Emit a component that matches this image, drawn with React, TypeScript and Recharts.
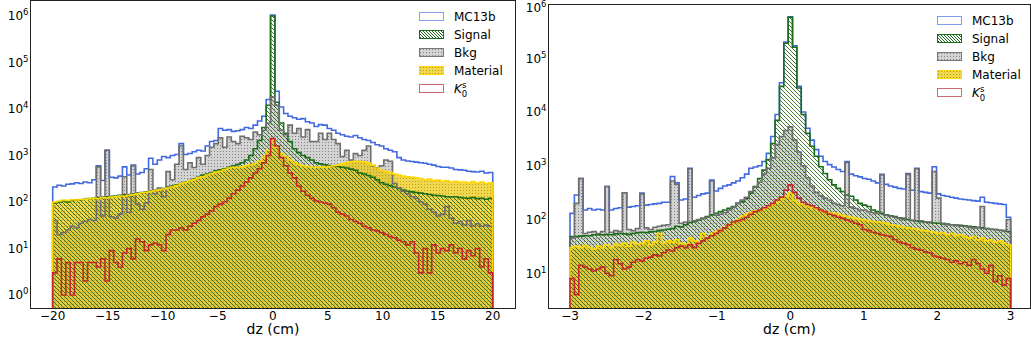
import React from 'react';
import { ComposedChart, Area, Line, XAxis, YAxis } from 'recharts';

// bin contents: 101 equal bins per panel
const leftRange = [-20, 20];
const leftMC13b = [
  210, 230, 220, 240, 245, 260, 250, 270, 260, 300,
  600, 290, 1300, 340, 330, 360, 570, 380, 620, 400,
  430, 520, 870, 650, 800, 950, 900, 1000, 1050, 1800,
  1050, 1100, 1200, 1300, 1250, 1600, 2000, 2100, 3800, 3500,
  3600, 3300, 3400, 3600, 4000, 3800, 4500, 5500, 7000, 16000,
  1050000,
  24000, 11000, 8000, 7000, 6500, 6000, 6200, 5300, 5000, 4200,
  4600, 4500, 3800, 3500, 3000, 2800, 2600, 2500, 2700, 2400,
  2200, 2100, 1900, 1700, 1600, 1400, 1300, 1200, 900, 800,
  760, 740, 720, 700, 680, 650, 620, 580, 560, 560,
  540, 500, 490, 480, 460, 450, 440, 460, 420, 430,
];
const leftSignal = [
  95, 100, 105, 100, 108, 110, 112, 115, 118, 120,
  125, 128, 130, 132, 135, 140, 142, 145, 150, 155,
  160, 165, 170, 178, 185, 195, 210, 220, 235, 250,
  270, 290, 310, 340, 380, 400, 430, 470, 490, 520,
  560, 600, 640, 700, 800, 1000, 1400, 2100, 4000, 12000,
  1000000,
  14000, 5000, 3000, 2000, 1400, 1150, 1000, 900, 800, 700,
  660, 630, 610, 590, 580, 560, 540, 510, 480, 420,
  400, 370, 340, 300, 260, 240, 225, 210, 195, 180,
  170, 165, 160, 155, 150, 145, 140, 138, 135, 130,
  128, 130, 125, 122, 120, 125, 118, 120, 115, 120,
];
const leftBkg = [
  40, 20, 22, 25, 30, 28, 35, 38, 42, 40,
  570, 50, 1300, 48, 45, 55, 350, 60, 600, 90,
  70, 95, 500, 150, 200, 130, 450, 300, 650, 1600,
  500, 700, 550, 900, 650, 1000, 1500, 1800, 2400, 1500,
  2500, 2000, 1800, 2600, 2400, 2200, 3200, 2800, 3500, 5000,
  18000,
  12000, 3500, 2800, 4500, 3000, 3800, 2500, 3600, 2000, 2000,
  3000, 2200, 3000, 2200, 1800, 950, 1300, 800, 1100, 1000,
  1300, 1600, 600, 550, 600, 800, 750, 250, 200, 170,
  150, 130, 120, 100, 90, 70, 60, 50, 55, 80,
  45, 35, 38, 32, 40, 30, 34, 30, 32, 30,
];
const leftMaterial = [
  100, 105, 110, 108, 112, 110, 115, 112, 118, 120,
  118, 125, 122, 128, 130, 135, 132, 140, 145, 150,
  158, 162, 168, 175, 182, 190, 200, 210, 225, 245,
  265, 285, 305, 330, 350, 380, 410, 440, 460, 500,
  540, 560, 550, 570, 600, 630, 680, 760, 950, 1300,
  2100,
  1500, 1100, 950, 800, 700, 650, 600, 580, 560, 560,
  570, 560, 580, 600, 620, 660, 700, 730, 750, 740,
  720, 690, 620, 540, 480, 450, 430, 400, 380, 360,
  350, 340, 330, 320, 300, 310, 290, 295, 280, 285,
  270, 280, 265, 270, 260, 275, 255, 270, 250, 260,
];
const leftK0s = [
  3, 6, 1, 5, 1, 5, 5, 2, 5, 5,
  4, 6, 2, 9, 5, 4, 8, 10, 6, 16,
  14, 9, 12, 13, 12, 9, 20, 25, 25, 28,
  25, 30, 35, 40, 48, 55, 65, 80, 90, 100,
  120, 150, 180, 220, 270, 330, 420, 520, 700, 1000,
  2300,
  1600, 900, 600, 420, 330, 220, 170, 140, 120, 105,
  100, 95, 90, 75, 60, 55, 50, 42, 38, 35,
  30, 28, 25, 24, 22, 20, 18, 17, 15, 14,
  12, 14, 8, 3, 10, 3, 12, 8, 10, 9,
  12, 8, 10, 6, 9, 7, 10, 4, 6, 3,
];

const rightRange = [-3, 3];
const rightMC13b = [
  130, 285, 580, 150, 160, 150, 155, 150, 410, 150,
  160, 165, 315, 170, 175, 180, 310, 185, 190, 195,
  200, 210, 210, 630, 480, 230, 240, 900, 260, 280,
  300, 310, 540, 340, 380, 420, 440, 480, 520, 600,
  700, 900, 950, 1000, 1200, 1700, 3500, 9000, 35000, 200000,
  590000,
  170000, 30000, 10000, 5000, 3000, 2000, 1500, 1200, 1050, 950,
  850, 780, 1200, 700, 650, 620, 580, 560, 520, 480,
  690, 450, 420, 400, 380, 370, 720, 350, 900, 330,
  320, 310, 960, 300, 280, 270, 260, 250, 240, 235,
  230, 225, 220, 260, 210, 205, 200, 195, 190, 110,
];
const rightSignal = [
  48, 48, 49, 50, 50, 52, 52, 52, 53, 52,
  54, 55, 54, 53, 55, 57, 58, 57, 59, 60,
  62, 64, 66, 68, 75, 73, 80, 88, 91, 98,
  105, 113, 122, 130, 140, 150, 162, 175, 200, 215,
  250, 310, 410, 580, 830, 1300, 2600, 7000, 30000, 190000,
  580000,
  160000, 28000, 9000, 4000, 2300, 1500, 960, 720, 550, 440,
  380, 330, 285, 270, 230, 200, 185, 175, 150, 140,
  130, 122, 117, 113, 108, 105, 100, 97, 94, 91,
  90, 88, 86, 85, 83, 82, 80, 79, 78, 76,
  75, 73, 72, 70, 68, 66, 65, 63, 62, 60,
];
const rightBkg = [
  45, 200, 580, 55, 58, 60, 55, 60, 410, 58,
  62, 60, 315, 65, 62, 68, 300, 70, 65, 72,
  75, 78, 80, 520, 450, 85, 90, 880, 95, 100,
  105, 110, 520, 120, 125, 135, 150, 170, 200, 230,
  260, 330, 400, 500, 700, 900, 1400, 2500, 3500, 4500,
  5300,
  3000, 1800, 1000, 600, 420, 320, 280, 250, 230, 200,
  190, 180, 1150, 170, 160, 150, 150, 140, 135, 130,
  680, 120, 115, 110, 105, 100, 700, 95, 880, 95,
  90, 90, 780, 250, 85, 80, 80, 78, 75, 75,
  72, 70, 70, 175, 68, 66, 65, 63, 62, 100,
];
const rightMaterial = [
  30, 32, 30, 33, 30, 28, 32, 30, 34, 30,
  35, 33, 36, 32, 38, 35, 36, 40, 34, 38,
  55, 36, 40, 38, 42, 36, 35, 45, 40, 38,
  55, 45, 55, 60, 65, 72, 80, 90, 100, 115,
  125, 135, 145, 150, 160, 175, 190, 210, 240, 270,
  310,
  230, 200, 190, 175, 165, 160, 150, 140, 135, 130,
  125, 120, 115, 110, 105, 100, 98, 95, 92, 90,
  88, 85, 80, 78, 75, 72, 70, 68, 66, 64,
  62, 60, 58, 55, 57, 52, 55, 50, 52, 48,
  45, 48, 42, 45, 40, 42, 38, 40, 36, 34,
];
const rightK0s = [
  8, 4, 14, 13, 12, 11, 12, 13, 10, 9,
  18, 15, 12, 13, 16, 18, 17, 19, 20, 22,
  21, 24, 27, 26, 30, 32, 30, 34, 30, 36,
  40, 45, 50, 55, 62, 70, 80, 90, 95, 100,
  110, 125, 140, 150, 165, 180, 200, 230, 260, 350,
  440,
  320, 250, 210, 190, 180, 165, 150, 140, 125, 118,
  110, 105, 98, 92, 85, 80, 65, 62, 58, 55,
  52, 50, 48, 42, 38, 36, 34, 30, 28, 27,
  25, 24, 21, 20, 19, 18, 16, 17, 15, 16,
  14, 18, 15, 12, 10, 14, 7, 9, 6, 8,
];

const leftXTicks = [-20, -15, -10, -5, 0, 5, 10, 15, 20];
const rightXTicks = [-3, -2, -1, 0, 1, 2, 3];
const leftYTicks = [1, 10, 100, 1000, 10000, 100000, 1000000];
const rightYTicks = [10, 100, 1000, 10000, 100000, 1000000];

const KEYS = ['mc', 'sig', 'bkg', 'mat', 'k0s'];
const COLORS: Record<string, string> = {
  mc: '#4169e1',
  sig: '#1a6e1a',
  bkg: '#6e6e6e',
  mat: '#ffd700',
  k0s: '#c1272d',
};

// step histogram rows: closing points at the floor give the outer vertical edges
function buildRows(range: number[], hist: Record<string, number[]>, floor: number) {
  const [lo, hi] = range;
  const n = hist.mc.length;
  const w = (hi - lo) / n;
  const rows: any[] = [];
  const edge = (x: number) => {
    const r: any = { x };
    KEYS.forEach((k) => (r[k] = floor));
    return r;
  };
  rows.push(edge(lo));
  for (let i = 0; i < n; i++) {
    const r: any = { x: lo + i * w };
    KEYS.forEach((k) => (r[k] = hist[k][i]));
    rows.push(r);
  }
  const last: any = { x: hi };
  KEYS.forEach((k) => (last[k] = hist[k][n - 1]));
  rows.push(last);
  rows.push(edge(hi));
  return rows;
}

const fmtX = (v: number) => (v < 0 ? '\u2212' + Math.abs(v) : String(v));

function XTick(props: any) {
  const { x, y, payload } = props;
  return (
    <text x={x} y={y} dy={11} textAnchor="middle" fontSize={12} fill="#000">
      {fmtX(payload.value)}
    </text>
  );
}

function YTick(props: any) {
  const { x, y, payload } = props;
  const e = Math.round(Math.log10(payload.value));
  // keep the top label from running off the page
  const yy = Math.max(y, 8);
  return (
    <text x={x} y={yy} dy={4.3} textAnchor="end" fontSize={12} fill="#000">
      10<tspan dy={-5} fontSize={8.5}>{e}</tspan>
    </text>
  );
}

function Patterns() {
  return (
    <svg width={0} height={0} style={{ position: 'absolute' }}>
      <defs>
        <pattern id="hatchSignal" patternUnits="userSpaceOnUse" width={4} height={4}>
          <path d="M-1,-1 L5,5 M-1,3 L1,5 M3,-1 L5,1" stroke="#2d6b1a" strokeWidth={0.9} />
        </pattern>
        <pattern id="dotsBkg" patternUnits="userSpaceOnUse" width={3} height={3}>
          <rect width={3} height={3} fill="#a8a8a8" fillOpacity={0.5} />
          <rect x={1} y={1} width={1} height={1} fill="#707070" fillOpacity={0.8} />
        </pattern>
        <pattern id="dotsMat" patternUnits="userSpaceOnUse" width={3} height={3}>
          <rect width={3} height={3} fill="#e8c400" fillOpacity={0.68} />
          <rect x={1} y={1} width={1} height={1} fill="#c0a000" />
        </pattern>
        <pattern id="legSignal" patternUnits="userSpaceOnUse" width={3} height={3}>
          <rect width={3} height={3} fill="#fff" />
          <path d="M-1,-1 L4,4 M-1,2 L1,4 M2,-1 L4,1" stroke="#1a6e1a" strokeWidth={1} />
        </pattern>
      </defs>
    </svg>
  );
}

const LEGEND = [
  { key: 'mc', label: 'MC13b', fill: '#ffffff', stroke: '#7f9cf0' },
  { key: 'sig', label: 'Signal', fill: 'url(#legSignal)', stroke: '#1a6e1a' },
  { key: 'bkg', label: 'Bkg', fill: 'url(#dotsBkg)', stroke: '#777777' },
  { key: 'mat', label: 'Material', fill: 'url(#dotsMat)', stroke: '#ffd700' },
  { key: 'k0s', label: 'K', fill: '#ffffff', stroke: '#cf6a6e' },
];

function LegendBox({ left, top }: { left: number; top: number }) {
  return (
    <svg
      width={120}
      height={95}
      style={{ position: 'absolute', left, top, overflow: 'visible' }}
    >
      {LEGEND.map((it, i) => (
        <g key={it.key} transform={`translate(0, ${i * 18})`}>
          <rect x={0.5} y={0.5} width={24} height={8} fill="#fff" />
          <rect x={0.5} y={0.5} width={24} height={8} fill={it.fill} stroke={it.stroke} strokeWidth={1} />
          {it.key === 'k0s' ? (
            <text x={35} y={8.8} fontSize={12} fill="#000">
              <tspan fontStyle="italic">K</tspan>
              <tspan dy={-5} fontSize={8.5}>s</tspan>
              <tspan dx={-4.5} dy={9} fontSize={8.5}>0</tspan>
            </text>
          ) : (
            <text x={35} y={8.8} fontSize={12} fill="#000">
              {it.label}
            </text>
          )}
        </g>
      ))}
    </svg>
  );
}

interface PanelProps {
  left: number;
  width: number;
  margin: { top: number; right: number; bottom: number; left: number };
  yWidth: number;
  xDomain: number[];
  yDomain: number[];
  xTicks: number[];
  yTicks: number[];
  rows: any[];
  legendLeft: number;
  legendTop: number;
  frame: { left: number; top: number; width: number; height: number };
}

function Panel(p: PanelProps) {
  return (
    <div style={{ position: 'absolute', left: p.left, top: 0, width: p.width, height: 345 }}>
      <ComposedChart width={p.width} height={345} data={p.rows} margin={p.margin}>
        <XAxis
          dataKey="x"
          type="number"
          domain={p.xDomain}
          allowDataOverflow
          ticks={p.xTicks}
          interval={0}
          tickLine={false}
          tickSize={0}
          tickMargin={0}
          tick={<XTick />}
          axisLine={false}
          height={36.5}
          label={{ value: 'dz (cm)', position: 'insideBottom', offset: 11, fontSize: 14, fill: '#000' }}
        />
        <YAxis
          type="number"
          scale="log"
          domain={p.yDomain}
          allowDataOverflow
          ticks={p.yTicks}
          interval={0}
          tickLine={false}
          tickSize={0}
          tickMargin={2}
          tick={<YTick />}
          axisLine={false}
          width={p.yWidth}
        />
        <Area
          dataKey="bkg"
          type="stepAfter"
          stroke="none"
          fill="url(#dotsBkg)"
          fillOpacity={1}
          baseValue={p.yDomain[0]}
          isAnimationActive={false}
        />
        <Area
          dataKey="mat"
          type="stepAfter"
          stroke="none"
          fill="url(#dotsMat)"
          fillOpacity={1}
          baseValue={p.yDomain[0]}
          isAnimationActive={false}
        />
        <Area
          dataKey="sig"
          type="stepAfter"
          stroke="none"
          fill="url(#hatchSignal)"
          fillOpacity={1}
          baseValue={p.yDomain[0]}
          isAnimationActive={false}
        />
        {KEYS.map((k) => (
          <Line
            key={k}
            dataKey={k}
            type="stepAfter"
            stroke={COLORS[k]}
            strokeWidth={1.6}
            dot={false}
            activeDot={false}
            isAnimationActive={false}
          />
        ))}
      </ComposedChart>
      <div
        style={{
          position: 'absolute',
          left: p.frame.left,
          top: p.frame.top,
          width: p.frame.width,
          height: p.frame.height,
          border: '1px solid #222',
          boxSizing: 'border-box',
          pointerEvents: 'none',
        }}
      />
      <LegendBox left={p.legendLeft} top={p.legendTop} />
    </div>
  );
}

const leftY = [0.513, 2.15e6];
const rightY = [2.21, 1.0e6];

const leftRows = buildRows(
  leftRange,
  { mc: leftMC13b, sig: leftSignal, bkg: leftBkg, mat: leftMaterial, k0s: leftK0s },
  leftY[0]
);
const rightRows = buildRows(
  rightRange,
  { mc: rightMC13b, sig: rightSignal, bkg: rightBkg, mat: rightMaterial, k0s: rightK0s },
  rightY[0]
);

export default function App() {
  return (
    <div
      style={{
        position: 'absolute',
        left: 0,
        top: 0,
        width: 1031,
        height: 345,
        background: '#fff',
        fontFamily: '"DejaVu Sans", sans-serif',
        overflow: 'hidden',
      }}
    >
      <Patterns />
      <Panel
        left={0}
        width={520}
        margin={{ top: 0.5, right: 4.5, bottom: 0, left: 0 }}
        yWidth={30.5}
        xDomain={[-22.02, 22.07]}
        yDomain={leftY}
        xTicks={leftXTicks}
        yTicks={leftYTicks}
        rows={leftRows}
        legendLeft={419}
        legendTop={12}
        frame={{ left: 30, top: 0, width: 486, height: 309 }}
      />
      <Panel
        left={520}
        width={511}
        margin={{ top: 4.5, right: 0.5, bottom: 0, left: 0 }}
        yWidth={28.5}
        xDomain={[-3.293, 3.27]}
        yDomain={rightY}
        xTicks={rightXTicks}
        yTicks={rightYTicks}
        rows={rightRows}
        legendLeft={417}
        legendTop={15.5}
        frame={{ left: 28, top: 4, width: 483, height: 305 }}
      />
    </div>
  );
}
